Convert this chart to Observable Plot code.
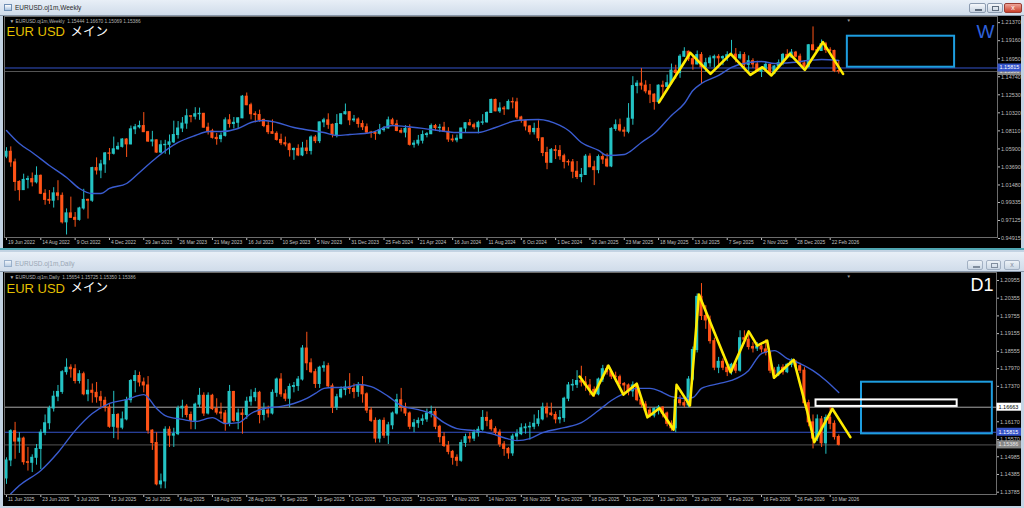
<!DOCTYPE html>
<html><head><meta charset="utf-8">
<script src="https://cdn.jsdelivr.net/npm/d3@7"></script>
<script src="https://cdn.jsdelivr.net/npm/@observablehq/plot@0.6"></script>
<style>
body{margin:0;width:1024px;height:508px;overflow:hidden;background:#c3d3e3;position:relative;font-family:"Liberation Sans",Arial,sans-serif}
.tb{position:absolute;left:0;width:1024px;background:linear-gradient(#e8eff7,#d0dcea);border-bottom:1px solid #8796a8;box-sizing:border-box}
.tt{position:absolute;left:15px;font-size:6.5px;line-height:8px}
.ic{position:absolute;left:4px;width:8px;height:7px;border:1px solid #6f8fb4;background:linear-gradient(#fff,#a8c3e0);box-sizing:border-box}
.btn{position:absolute;height:10px;box-sizing:border-box;border:1px solid #8c9cb1;border-radius:2px;background:linear-gradient(#f5f8fb,#c8d4e2)}
.btn i{position:absolute;display:block;border:1px solid #5d6b7c}
.chart{position:absolute;left:3px}
</style></head><body>
<div class="tb" style="top:0;height:16px">
  <div class="ic" style="top:4px"></div>
  <div class="tt" style="top:4px;color:#2a2a2a">EURUSD.oj1m,Weekly</div>
  <div class="btn" style="left:969px;top:3px;width:17px"><i style="left:5px;top:5px;width:5px;height:0"></i></div>
  <div class="btn" style="left:987px;top:3px;width:16px"><i style="left:4px;top:2px;width:5px;height:3px"></i></div>
  <div class="btn" style="left:1004px;top:3px;width:18px;border-color:#9b3d33;background:linear-gradient(#eea497,#c9402b);color:#fff;font-size:7px;line-height:8px;text-align:center">x</div>
</div>
<div id="wk" class="chart" style="top:16px"></div>
<div style="position:absolute;left:0;top:248px;width:1024px;height:2px;background:#4fa6b2"></div>
<div class="tb" style="top:252px;height:20px">
  <div class="ic" style="top:8px;opacity:.6"></div>
  <div class="tt" style="top:8px;color:#9aa7b5">EURUSD.oj1m,Daily</div>
  <div class="btn" style="left:967px;top:8px;width:16px;opacity:.7"><i style="left:5px;top:5px;width:5px;height:0"></i></div>
  <div class="btn" style="left:986px;top:8px;width:15px;opacity:.7"><i style="left:4px;top:2px;width:5px;height:3px"></i></div>
  <div class="btn" style="left:1004px;top:8px;width:16px;opacity:.7;font-size:7px;line-height:8px;text-align:center;color:#5d6b7c">x</div>
</div>
<div id="dy" class="chart" style="top:272px"></div>
<script>
// ---------------- WEEKLY (index 0 = week of 19 Jun 2022) ----------------
const wO = [
1.0495,1.0555,1.0425,1.0185,1.0085,1.0210,1.0220,1.0180,1.0260,1.0040,
0.9965,0.9955,1.0045,1.0015,0.9690,0.9800,0.9745,0.9720,0.9860,0.9965,
0.9955,1.0355,1.0325,1.0400,1.0535,1.0530,1.0585,1.0615,1.0705,1.0645,
1.0830,1.0855,1.0870,1.0795,1.0680,1.0695,1.0545,1.0635,1.0640,1.0670,
1.0760,1.0840,1.0900,1.0990,1.0985,1.1015,1.1020,1.0850,1.0805,1.0725,
1.0710,1.0750,1.0940,1.0895,1.0910,1.0965,1.1230,1.1125,1.1015,1.1005,
1.0945,1.0870,1.0795,1.0775,1.0700,1.0660,1.0645,1.0575,1.0590,1.0510,
1.0595,1.0565,1.0730,1.0685,1.0915,1.0940,1.0885,1.0760,1.0895,1.1015,
1.1040,1.0940,1.0950,1.0895,1.0855,1.0790,1.0785,1.0775,1.0820,1.0840,
1.0940,1.0890,1.0810,1.0790,1.0835,1.0640,1.0655,1.0690,1.0760,1.0770,
1.0870,1.0845,1.0850,1.0800,1.0705,1.0695,1.0715,1.0840,1.0905,1.0880,
1.0855,1.0910,1.0915,1.1030,1.1190,1.1050,1.1085,1.1075,1.1165,1.1160,
1.0975,1.0935,1.0865,1.0795,1.0835,1.0720,1.0540,1.0420,1.0575,1.0565,
1.0500,1.0430,1.0425,1.0310,1.0245,1.0270,1.0495,1.0365,1.0330,1.0490,
1.0460,1.0375,1.0835,1.0880,1.0815,1.0800,1.0960,1.1360,1.1390,1.1365,
1.1295,1.1255,1.1165,1.1365,1.1350,1.1395,1.1550,1.1520,1.1720,1.1780,
1.1690,1.1625,1.1740,1.1590,1.1640,1.1700,1.1718,1.1700,1.1715,1.1738,
1.1745,1.1700,1.1740,1.1620,1.1665,1.1625,1.1535,1.1565,1.1620,1.1510,
1.1600,1.1640,1.1742,1.1710,1.1770,1.1720,1.1638,1.1595,1.1860,1.1800,
1.1790,1.1872,1.1800,1.1790,1.15444];
const wH = [
1.0605,1.0615,1.0465,1.0200,1.0280,1.0255,1.0295,1.0370,1.0270,1.0090,
1.0080,1.0115,1.0200,1.0050,0.9855,0.9999,0.9810,0.9875,1.0095,0.9975,
1.0365,1.0480,1.0450,1.0545,1.0595,1.0735,1.0665,1.0715,1.0715,1.0870,
1.0890,1.0930,1.1035,1.0805,1.0805,1.0700,1.0690,1.0695,1.0760,1.0930,
1.0925,1.0975,1.1075,1.0995,1.1095,1.1090,1.1025,1.0905,1.0830,1.0780,
1.0785,1.0970,1.1010,1.0975,1.0970,1.1245,1.1275,1.1150,1.1045,1.1065,
1.0955,1.0930,1.0945,1.0800,1.0770,1.0735,1.0660,1.0600,1.0640,1.0670,
1.0695,1.0750,1.0755,1.0920,1.0965,1.1020,1.0895,1.1010,1.1020,1.1140,
1.1045,1.1000,1.0970,1.0935,1.0895,1.0805,1.0805,1.0890,1.0865,1.0980,
1.0965,1.0940,1.0840,1.0875,1.0885,1.0690,1.0755,1.0810,1.0790,1.0895,
1.0890,1.0890,1.0915,1.0850,1.0760,1.0760,1.0845,1.0910,1.0950,1.0905,
1.0930,1.1010,1.1045,1.1200,1.1200,1.1155,1.1110,1.1190,1.1215,1.1210,
1.0990,1.0940,1.0875,1.0905,1.0935,1.0725,1.0610,1.0595,1.0630,1.0630,
1.0525,1.0455,1.0460,1.0435,1.0350,1.0520,1.0530,1.0440,1.0515,1.0530,
1.0530,1.0850,1.0945,1.0955,1.0855,1.1145,1.1475,1.1425,1.1575,1.1425,
1.1380,1.1265,1.1375,1.1420,1.1495,1.1630,1.1615,1.1745,1.1830,1.1790,
1.1720,1.1790,1.1770,1.1700,1.1730,1.1740,1.1745,1.1730,1.1780,1.1920,
1.1820,1.1780,1.1770,1.1730,1.1695,1.1665,1.1570,1.1655,1.1630,1.1610,
1.1680,1.1760,1.1805,1.1808,1.1785,1.1752,1.1672,1.1870,1.2085,1.1835,
1.1925,1.1895,1.1830,1.1800,1.16670];
const wL = [
1.0470,1.0365,1.0070,0.9950,1.0080,1.0100,1.0125,1.0160,1.0030,0.9900,
0.9910,0.9865,0.9955,0.9670,0.9535,0.9740,0.9630,0.9705,0.9840,0.9730,
0.9935,1.0270,1.0225,1.0290,1.0445,1.0515,1.0575,1.0600,1.0485,1.0640,
1.0765,1.0835,1.0790,1.0670,1.0615,1.0535,1.0535,1.0525,1.0515,1.0655,
1.0710,1.0790,1.0830,1.0910,1.0945,1.0940,1.0845,1.0760,1.0710,1.0635,
1.0665,1.0735,1.0845,1.0835,1.0835,1.0960,1.1120,1.0945,1.0910,1.0915,
1.0850,1.0765,1.0770,1.0685,1.0630,1.0615,1.0490,1.0450,1.0495,1.0495,
1.0520,1.0515,1.0655,1.0655,1.0850,1.0830,1.0725,1.0725,1.0880,1.1005,
1.0875,1.0915,1.0845,1.0815,1.0780,1.0720,1.0695,1.0760,1.0795,1.0835,
1.0875,1.0800,1.0775,1.0725,1.0625,1.0600,1.0625,1.0650,1.0725,1.0765,
1.0805,1.0790,1.0795,1.0670,1.0670,1.0665,1.0710,1.0790,1.0870,1.0825,
1.0775,1.0880,1.0905,1.1025,1.1045,1.1025,1.1000,1.1070,1.1080,1.0950,
1.0905,1.0810,1.0760,1.0760,1.0680,1.0495,1.0335,1.0415,1.0460,1.0450,
1.0345,1.0380,1.0225,1.0215,1.0175,1.0265,1.0360,1.0140,1.0285,1.0400,
1.0360,1.0360,1.0805,1.0795,1.0735,1.0775,1.0880,1.1265,1.1310,1.1265,
1.1145,1.1065,1.1135,1.1210,1.1345,1.1375,1.1445,1.1455,1.1710,1.1660,
1.1555,1.1620,1.1390,1.1530,1.1590,1.1580,1.1575,1.1610,1.1660,1.1725,
1.1645,1.1680,1.1545,1.1540,1.1575,1.1530,1.1465,1.1545,1.1490,1.1500,
1.1590,1.1610,1.1700,1.1700,1.1705,1.1630,1.1585,1.1580,1.1790,1.1770,
1.1785,1.1760,1.1775,1.1525,1.15069];
const wC = [
1.0555,1.0425,1.0185,1.0085,1.0210,1.0220,1.0180,1.0260,1.0040,0.9965,
0.9955,1.0045,1.0015,0.9690,0.9800,0.9745,0.9720,0.9860,0.9965,0.9955,
1.0355,1.0325,1.0400,1.0535,1.0530,1.0585,1.0615,1.0705,1.0645,1.0830,
1.0855,1.0870,1.0795,1.0680,1.0695,1.0545,1.0635,1.0640,1.0670,1.0760,
1.0840,1.0900,1.0990,1.0985,1.1015,1.1020,1.0850,1.0805,1.0725,1.0710,
1.0750,1.0940,1.0895,1.0910,1.0965,1.1230,1.1125,1.1015,1.1005,1.0945,
1.0870,1.0795,1.0775,1.0700,1.0660,1.0645,1.0575,1.0590,1.0510,1.0595,
1.0565,1.0730,1.0685,1.0915,1.0940,1.0885,1.0760,1.0895,1.1015,1.1040,
1.0940,1.0950,1.0895,1.0855,1.0790,1.0785,1.0775,1.0820,1.0840,1.0940,
1.0890,1.0810,1.0790,1.0835,1.0640,1.0655,1.0690,1.0760,1.0770,1.0870,
1.0845,1.0850,1.0800,1.0705,1.0695,1.0715,1.0840,1.0905,1.0880,1.0855,
1.0910,1.0915,1.1030,1.1190,1.1050,1.1085,1.1075,1.1165,1.1160,1.0975,
1.0935,1.0865,1.0795,1.0835,1.0720,1.0540,1.0420,1.0575,1.0565,1.0500,
1.0430,1.0425,1.0310,1.0245,1.0270,1.0495,1.0365,1.0330,1.0490,1.0460,
1.0375,1.0835,1.0880,1.0815,1.0800,1.0960,1.1360,1.1390,1.1365,1.1295,
1.1255,1.1165,1.1365,1.1350,1.1395,1.1550,1.1520,1.1720,1.1780,1.1690,
1.1625,1.1740,1.1590,1.1640,1.1700,1.1718,1.1700,1.1715,1.1738,1.1745,
1.1700,1.1740,1.1620,1.1665,1.1625,1.1535,1.1565,1.1620,1.1510,1.1600,
1.1640,1.1742,1.1710,1.1770,1.1720,1.1638,1.1595,1.1860,1.1800,1.1790,
1.1872,1.1800,1.1790,1.1544,1.15386];
const wMaIdx = [0,3,6,10,14,17,20,22,24,28,31,35,40,44,47,50,54,57,60,63,67,71,74,77,80,85,90,93,99,105,110,114,119,124,129,131,134,138,140,144,145,148,151,155,158,160,162,166,169,173,176,179,183,187,190,194];
const wMaVal = [1.0816,1.0656,1.0546,1.0387,1.0240,1.0105,1.0043,1.0043,1.0105,1.0166,1.0301,1.0485,1.0669,1.0754,1.0803,1.0803,1.0840,1.0914,1.0938,1.0914,1.0852,1.0816,1.0791,1.0754,1.0766,1.0791,1.0877,1.0865,1.0828,1.0791,1.0791,1.0852,1.0938,1.0950,1.0877,1.0816,1.0669,1.0571,1.0509,1.0521,1.0546,1.0669,1.0779,1.1000,1.1146,1.1306,1.1391,1.1490,1.1588,1.1649,1.1661,1.1637,1.1649,1.1673,1.1686,1.1673];
const wZigIdx = [152.1,159.4,164.1,168.8,173.4,176.2,178.3,182.6,186.1,190.3,195];
const wZigVal = [1.1162,1.1768,1.1510,1.1755,1.1498,1.1591,1.1490,1.1755,1.1559,1.1898,1.1510];
const wBoxIdx = [196, 221];
const wBoxVal = [1.1591, 1.1971];
const wLevels = [1.15386, 1.15815];
const wPriceTicks = [1.21370,1.19160,1.16950,1.14740,1.12530,1.10320,1.08110,1.05900,1.03690,1.01480,0.99335,0.97125,0.94915];
const wTickIdx = [0,8,16,24,32,40,48,56,64,72,80,88,96,104,112,120,128,136,144,152,160,168,176,184,192];
const wTickLbl = ["19 Jun 2022","14 Aug 2022","9 Oct 2022","4 Dec 2022","29 Jan 2023","26 Mar 2023","21 May 2023","16 Jul 2023","10 Sep 2023","5 Nov 2023","31 Dec 2023","25 Feb 2024","21 Apr 2024","16 Jun 2024","11 Aug 2024","6 Oct 2024","1 Dec 2024","26 Jan 2025","23 Mar 2025","18 May 2025","13 Jul 2025","7 Sep 2025","2 Nov 2025","28 Dec 2025","22 Feb 2026"];
const wHeader = "▼ EURUSD.oj1m,Weekly  1.15444 1.16670 1.15069 1.15386";
const wCorner = "W";

// ---------------- DAILY (index 0 = 11 Jun 2025) ----------------
const dO = [
1.1425,1.1486,1.1585,1.1550,1.1560,1.1480,1.1478,1.1495,1.1525,1.1580,
1.1612,1.1662,1.1702,1.1718,1.1785,1.1800,1.1795,1.1755,1.1778,1.1710,
1.1722,1.1715,1.1700,1.1688,1.1665,1.1600,1.1640,1.1597,1.1625,1.1690,
1.1755,1.1772,1.1750,1.1740,1.1587,1.1545,1.1405,1.1415,1.1590,1.1570,
1.1575,1.1662,1.1668,1.1640,1.1620,1.1675,1.1705,1.1645,1.1705,1.1660,
1.1648,1.1645,1.1610,1.1718,1.1620,1.1645,1.1640,1.1685,1.1700,1.1715,
1.1640,1.1655,1.1645,1.1715,1.1760,1.1710,1.1695,1.1735,1.1738,1.1760,
1.1865,1.1815,1.1785,1.1745,1.1800,1.1805,1.1737,1.1665,1.1700,1.1725,
1.1733,1.1728,1.1718,1.1740,1.1710,1.1655,1.1620,1.1560,1.1620,1.1570,
1.1605,1.1645,1.1690,1.1665,1.1645,1.1600,1.1612,1.1620,1.1625,1.1645,
1.1650,1.1600,1.1565,1.1535,1.1515,1.1495,1.1485,1.1545,1.1565,1.1560,
1.1580,1.1590,1.1630,1.1620,1.1592,1.1580,1.1540,1.1525,1.1510,1.1567,
1.1575,1.1595,1.1598,1.1600,1.1610,1.1625,1.1665,1.1645,1.1640,1.1625,
1.1630,1.1695,1.1740,1.1742,1.1755,1.1750,1.1740,1.1725,1.1710,1.1760,
1.1795,1.1785,1.1770,1.1768,1.1745,1.1740,1.1720,1.1740,1.1690,1.1675,
1.1655,1.1638,1.1660,1.1665,1.1645,1.1610,1.1595,1.1690,1.1680,1.1672,
1.1760,1.1860,1.2040,1.1975,1.1960,1.1890,1.1800,1.1820,1.1800,1.1785,
1.1810,1.1790,1.1900,1.1895,1.1870,1.1865,1.1872,1.1862,1.1850,1.1790,
1.1778,1.1800,1.1785,1.1810,1.1820,1.1805,1.1790,1.1680,1.1615,1.1560,
1.1625,1.1544,1.1630,1.1610,1.15654];
const dH = [
1.1495,1.1590,1.1615,1.1580,1.1565,1.1530,1.1505,1.1540,1.1590,1.1640,
1.1670,1.1720,1.1740,1.1790,1.1830,1.1810,1.1810,1.1790,1.1785,1.1760,
1.1745,1.1750,1.1720,1.1700,1.1675,1.1720,1.1645,1.1650,1.1700,1.1760,
1.1790,1.1785,1.1765,1.1770,1.1590,1.1580,1.1440,1.1600,1.1600,1.1595,
1.1670,1.1690,1.1675,1.1650,1.1680,1.1730,1.1715,1.1715,1.1710,1.1695,
1.1680,1.1655,1.1740,1.1720,1.1660,1.1660,1.1700,1.1725,1.1730,1.1720,
1.1680,1.1670,1.1725,1.1765,1.1780,1.1725,1.1745,1.1750,1.1770,1.1875,
1.1920,1.1830,1.1795,1.1805,1.1820,1.1815,1.1745,1.1710,1.1735,1.1755,
1.1780,1.1745,1.1750,1.1770,1.1715,1.1665,1.1630,1.1625,1.1630,1.1615,
1.1650,1.1710,1.1730,1.1680,1.1650,1.1625,1.1630,1.1640,1.1660,1.1670,
1.1660,1.1605,1.1580,1.1550,1.1520,1.1505,1.1555,1.1575,1.1580,1.1590,
1.1600,1.1655,1.1650,1.1625,1.1600,1.1590,1.1550,1.1530,1.1575,1.1590,
1.1610,1.1610,1.1615,1.1640,1.1655,1.1680,1.1680,1.1680,1.1650,1.1655,
1.1700,1.1750,1.1760,1.1790,1.1805,1.1770,1.1760,1.1735,1.1765,1.1808,
1.1808,1.1790,1.1785,1.1775,1.1750,1.1745,1.1752,1.1745,1.1700,1.1685,
1.1665,1.1665,1.1672,1.1668,1.1650,1.1620,1.1730,1.1705,1.1690,1.1770,
1.1870,1.2050,1.2085,1.2010,1.1975,1.1900,1.1835,1.1830,1.1815,1.1815,
1.1820,1.1925,1.1925,1.1910,1.1885,1.1885,1.1880,1.1895,1.1855,1.1800,
1.1810,1.1810,1.1815,1.1830,1.1825,1.1815,1.1800,1.1690,1.1640,1.1640,
1.1635,1.1640,1.1667,1.1620,1.15725];
const dL = [
1.1405,1.1465,1.1490,1.1510,1.1470,1.1450,1.1445,1.1470,1.1455,1.1570,
1.1590,1.1650,1.1685,1.1710,1.1775,1.1765,1.1745,1.1745,1.1705,1.1685,
1.1680,1.1680,1.1660,1.1650,1.1595,1.1560,1.1555,1.1590,1.1620,1.1680,
1.1715,1.1735,1.1715,1.1575,1.1520,1.1400,1.1390,1.1390,1.1530,1.1530,
1.1570,1.1630,1.1630,1.1590,1.1590,1.1665,1.1635,1.1640,1.1655,1.1640,
1.1625,1.1585,1.1600,1.1615,1.1590,1.1575,1.1625,1.1670,1.1685,1.1610,
1.1620,1.1630,1.1640,1.1700,1.1700,1.1685,1.1665,1.1715,1.1720,1.1755,
1.1790,1.1780,1.1730,1.1730,1.1785,1.1730,1.1645,1.1655,1.1695,1.1705,
1.1710,1.1695,1.1700,1.1680,1.1645,1.1615,1.1545,1.1545,1.1560,1.1540,
1.1590,1.1640,1.1650,1.1635,1.1590,1.1580,1.1595,1.1605,1.1615,1.1630,
1.1590,1.1545,1.1530,1.1505,1.1470,1.1465,1.1480,1.1530,1.1545,1.1550,
1.1565,1.1585,1.1600,1.1585,1.1570,1.1530,1.1500,1.1490,1.1500,1.1550,
1.1570,1.1575,1.1555,1.1590,1.1600,1.1620,1.1630,1.1635,1.1610,1.1610,
1.1615,1.1685,1.1720,1.1730,1.1735,1.1720,1.1705,1.1700,1.1705,1.1750,
1.1775,1.1760,1.1750,1.1735,1.1705,1.1705,1.1700,1.1685,1.1665,1.1645,
1.1630,1.1630,1.1640,1.1630,1.1600,1.1585,1.1580,1.1670,1.1665,1.1665,
1.1755,1.1850,1.1960,1.1930,1.1880,1.1790,1.1780,1.1790,1.1770,1.1775,
1.1780,1.1785,1.1880,1.1860,1.1850,1.1855,1.1850,1.1840,1.1780,1.1760,
1.1770,1.1775,1.1780,1.1800,1.1795,1.1780,1.1670,1.1600,1.1525,1.1550,
1.1530,1.1507,1.1590,1.1555,1.15350];
const dC = [
1.1486,1.1585,1.1550,1.1560,1.1480,1.1478,1.1495,1.1525,1.1580,1.1612,
1.1662,1.1702,1.1718,1.1785,1.1800,1.1795,1.1755,1.1778,1.1710,1.1722,
1.1715,1.1700,1.1688,1.1665,1.1600,1.1640,1.1597,1.1625,1.1690,1.1755,
1.1772,1.1750,1.1740,1.1587,1.1545,1.1405,1.1415,1.1590,1.1570,1.1575,
1.1662,1.1668,1.1640,1.1620,1.1675,1.1705,1.1645,1.1705,1.1660,1.1648,
1.1645,1.1610,1.1718,1.1620,1.1645,1.1640,1.1685,1.1700,1.1715,1.1640,
1.1655,1.1645,1.1715,1.1760,1.1710,1.1695,1.1735,1.1738,1.1760,1.1865,
1.1815,1.1785,1.1745,1.1800,1.1805,1.1737,1.1665,1.1700,1.1725,1.1733,
1.1728,1.1718,1.1740,1.1710,1.1655,1.1620,1.1560,1.1620,1.1570,1.1605,
1.1645,1.1690,1.1665,1.1645,1.1600,1.1612,1.1620,1.1625,1.1645,1.1650,
1.1600,1.1565,1.1535,1.1515,1.1495,1.1485,1.1545,1.1565,1.1560,1.1580,
1.1590,1.1630,1.1620,1.1592,1.1580,1.1540,1.1525,1.1510,1.1567,1.1575,
1.1595,1.1598,1.1600,1.1610,1.1625,1.1665,1.1645,1.1640,1.1625,1.1630,
1.1695,1.1740,1.1742,1.1755,1.1750,1.1740,1.1725,1.1710,1.1760,1.1795,
1.1785,1.1770,1.1768,1.1745,1.1740,1.1720,1.1740,1.1690,1.1675,1.1655,
1.1638,1.1660,1.1665,1.1645,1.1610,1.1595,1.1690,1.1680,1.1672,1.1760,
1.1860,1.2040,1.1975,1.1960,1.1890,1.1800,1.1820,1.1800,1.1785,1.1810,
1.1790,1.1900,1.1895,1.1870,1.1865,1.1872,1.1862,1.1850,1.1790,1.1778,
1.1800,1.1785,1.1810,1.1820,1.1805,1.1790,1.1680,1.1615,1.1560,1.1625,
1.1544,1.1630,1.1610,1.1565,1.15386];
const dMaIdx = [1,3,8,12,16,20,24,28,32,35,37,41,44,48,51,54,57,60,64,67,70,72,74,76,79,82,85,89,92,96,99,102,105,109,113,116,119,122,125,130,134,138,141,144,147,150,153,155,158,160,162,166,169,173,176,179,182,185,188,191,194];
const dMaVal = [1.1373,1.1401,1.1452,1.1513,1.1587,1.1645,1.1679,1.1692,1.1709,1.1662,1.1638,1.1625,1.1618,1.1631,1.1611,1.1614,1.1645,1.1662,1.1669,1.1679,1.1696,1.1713,1.1730,1.1733,1.1733,1.1743,1.1736,1.1703,1.1672,1.1658,1.1645,1.1614,1.1594,1.1587,1.1577,1.1563,1.1553,1.1560,1.1580,1.1597,1.1614,1.1655,1.1689,1.1713,1.1730,1.1730,1.1716,1.1702,1.1696,1.1699,1.1730,1.1746,1.1757,1.1791,1.1848,1.1858,1.1831,1.1814,1.1790,1.1757,1.1716];
const dZigIdx = [133.6,136.8,140.3,143.8,146.9,149.4,152.2,155.5,156.2,159.3,161.4,168.8,173,175,177.3,178.9,183.5,186.6,188.3,192.5,196.7];
const dZigVal = [1.1770,1.1706,1.1807,1.1709,1.1746,1.1632,1.1663,1.1590,1.1742,1.1672,1.2048,1.1785,1.1923,1.1875,1.1892,1.1766,1.1827,1.1655,1.1548,1.1661,1.1565];
const dBoxIdx = [199.3, 229.8];
const dBoxVal = [1.1576, 1.1751];
const dWhiteBoxIdx = [188.7, 221.6];
const dWhiteBoxVal = [1.1669, 1.1691];
const dLevels = [1.15386, 1.15815, 1.16663];
const dPriceTicks = [1.20955,1.20355,1.19755,1.19155,1.18555,1.17970,1.17370,1.16170,1.15570,1.14985,1.14385,1.13785];
const dTickIdx = [0,8,16,24,32,40,48,56,64,72,80,88,96,104,112,120,128,136,144,152,160,168,176,184,192];
const dTickLbl = ["11 Jun 2025","23 Jun 2025","3 Jul 2025","15 Jul 2025","25 Jul 2025","6 Aug 2025","18 Aug 2025","28 Aug 2025","9 Sep 2025","19 Sep 2025","1 Oct 2025","13 Oct 2025","23 Oct 2025","4 Nov 2025","14 Nov 2025","26 Nov 2025","8 Dec 2025","18 Dec 2025","31 Dec 2025","13 Jan 2026","23 Jan 2026","4 Feb 2026","16 Feb 2026","26 Feb 2026","10 Mar 2026"];
const dHeader = "▼ EURUSD.oj1m,Daily  1.15654 1.15725 1.15350 1.15386";
const dCorner = "D1";
const shiftIdx = 196.3;

// ---------------- drawing ----------------
const BULL = "#24c3c4", BEAR = "#ff5317", MA = "#3a5cd0", ZIG = "#ffec00", BOX = "#1e9ee0";
const FONT = "'Liberation Sans', Arial, 'Noto Sans CJK JP', sans-serif";

function priceTags(values, styles) {
  return (index, scales, channels, dim) => {
    const g = d3.create("svg:g").attr("text-anchor", "start");
    const x0 = dim.width - dim.marginRight;
    values.forEach((v, k) => {
      const y = scales.y(v);
      g.append("rect").attr("x", x0 + 0.5).attr("y", y - 4).attr("width", dim.marginRight - 0.5).attr("height", 8).attr("fill", styles[k].bg);
      g.append("text").attr("x", x0 + 2.5).attr("y", y).attr("dy", "0.35em").attr("text-anchor", "start")
        .attr("fill", styles[k].fg).attr("font-size", 5.5).attr("font-family", FONT).text(v.toFixed(5));
    });
    return g.node();
  };
}

function panel(o) {
  const rows = o.C.map((c, i) => ({i, o: o.O[i], h: o.H[i], l: o.L[i], c}));
  const up = rows.filter(d => d.c >= d.o), dn = rows.filter(d => d.c < d.o);
  const ma = o.maIdx.map((i, k) => ({i, v: o.maVal[k]}));
  const zig = o.zigIdx.map((i, k) => ({i, v: o.zigVal[k]}));
  const ticks = o.tickIdx.map((i, k) => ({i, t: o.tickLbl[k]}));
  const body = (data, fill) => Plot.rect(data, {x1: d => d.i - 0.36, x2: d => d.i + 0.36, y1: "o", y2: "c", fill, insetTop: -0.5, insetBottom: -0.5});
  const wick = (data, stroke) => Plot.ruleX(data, {x: "i", y1: "l", y2: "h", stroke, strokeWidth: 1});
  const marks = [
    ...o.levels.map((v, k) => Plot.ruleY([v], {stroke: o.levelStyle[k].line, strokeWidth: 1})),
    wick(up, BULL), wick(dn, BEAR), body(up, BULL), body(dn, BEAR),
    Plot.line(ma, {x: "i", y: "v", stroke: MA, strokeWidth: 1.4, curve: "monotone-x", clip: true}),
    ...o.boxes.map(b => Plot.rect([{x1: b.idx[0], x2: b.idx[1], y1: b.val[0], y2: b.val[1]}], {x1: "x1", x2: "x2", y1: "y1", y2: "y2", fill: "none", stroke: b.color, strokeWidth: 2})),
    Plot.line(zig, {x: "i", y: "v", stroke: ZIG, strokeWidth: 2.6, strokeLinejoin: "round", strokeLinecap: "round"}),
    Plot.frame({stroke: "#6d6d6d"}),
    Plot.text(ticks, {x: "i", text: "t", frameAnchor: "bottom", dy: o.tickDy, dx: 1.5, textAnchor: "start", fill: "#c4c4c4", fontSize: 4.9}),
    Plot.text([shiftIdx], {x: d => d, text: () => "▼", frameAnchor: "top", dy: 2.5, fill: "#9a9a9a", fontSize: 4.5}),
    Plot.text([o.header], {frameAnchor: "top-left", text: d => d, dx: 5, dy: 3.5, fill: "#b4b4b4", fontSize: 4.8, textAnchor: "start"}),
    Plot.text(["EUR USD"], {frameAnchor: "top-left", text: d => d, dx: 2, dy: o.titleDy, fill: "#e3bf00", fontSize: 13, textAnchor: "start"}),
    Plot.text(["メイン"], {frameAnchor: "top-left", text: d => d, dx: 66, dy: o.titleDy, fill: "#ffffff", fontSize: 12.5, textAnchor: "start"}),
    Plot.text([o.corner], {frameAnchor: "top-right", text: d => d, dx: -3, dy: o.cornerDy, fill: o.cornerColor, fontSize: o.cornerSize, textAnchor: "end"}),
    priceTags(o.levels, o.levelStyle)
  ];
  return Plot.plot({
    width: 1018, height: o.height,
    marginLeft: 1, marginRight: o.marginRight, marginTop: 0, marginBottom: o.marginBottom,
    style: {background: "#000", color: "#bdbdbd", fontFamily: FONT, fontSize: "5.5px"},
    x: {domain: o.xDomain, label: null, ticks: o.tickIdx, tickFormat: () => "", tickSize: 3},
    y: {domain: o.yDomain, label: null, axis: "right", ticks: o.priceTicks, tickFormat: d => d.toFixed(5), tickSize: 2, tickPadding: 1.5},
    marks
  });
}

document.getElementById("wk").append(panel({
  O: wO, H: wH, L: wL, C: wC, maIdx: wMaIdx, maVal: wMaVal, zigIdx: wZigIdx, zigVal: wZigVal,
  tickIdx: wTickIdx, tickLbl: wTickLbl, priceTicks: wPriceTicks, header: wHeader,
  levels: wLevels, levelStyle: [{line: "#555555", bg: "#858585", fg: "#e6e6e6"}, {line: "#3453c9", bg: "#3453c9", fg: "#ffffff"}],
  boxes: [{idx: wBoxIdx, val: wBoxVal, color: BOX}],
  height: 232, marginBottom: 11, marginRight: 24, xDomain: [-0.466, 231.0], yDomain: [0.95042, 1.22126],
  tickDy: 6, titleDy: 10.5, corner: wCorner, cornerColor: "#2f62dc", cornerSize: 19, cornerDy: 8
}));
document.getElementById("dy").append(panel({
  O: dO, H: dH, L: dL, C: dC, maIdx: dMaIdx, maVal: dMaVal, zigIdx: dZigIdx, zigVal: dZigVal,
  tickIdx: dTickIdx, tickLbl: dTickLbl, priceTicks: dPriceTicks, header: dHeader,
  levels: dLevels, levelStyle: [{line: "#555555", bg: "#858585", fg: "#e6e6e6"}, {line: "#3453c9", bg: "#3453c9", fg: "#ffffff"}, {line: "#a8a8a8", bg: "#ffffff", fg: "#000000"}],
  boxes: [{idx: dBoxIdx, val: dBoxVal, color: BOX}, {idx: dWhiteBoxIdx, val: dWhiteBoxVal, color: "#ffffff"}],
  height: 234, marginBottom: 12, marginRight: 25, xDomain: [-0.466, 230.77], yDomain: [1.13707, 1.21225],
  tickDy: 6.5, titleDy: 11, corner: dCorner, cornerColor: "#ffffff", cornerSize: 18, cornerDy: 6
}));
</script>
</body></html>
